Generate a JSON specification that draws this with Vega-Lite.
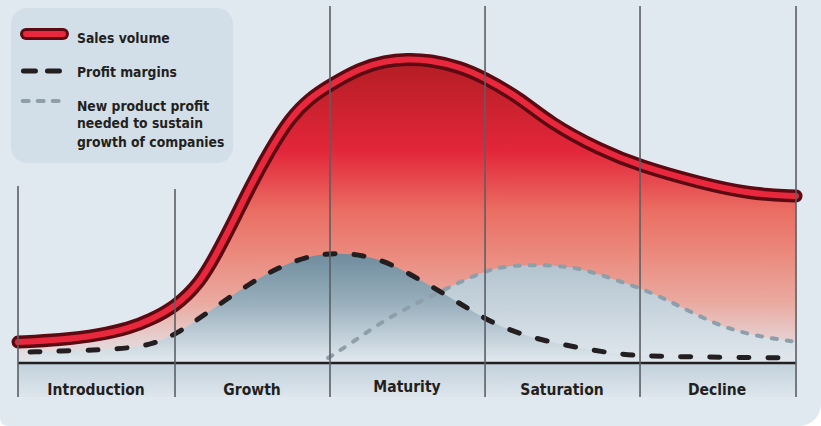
{
  "$schema": "https://vega.github.io/schema/vega-lite/v6.json",
  "width": 821,
  "height": 426,
  "autosize": {"type": "fit", "contains": "padding"},
  "padding": 0,
  "background": "#ffffff",
  "config": {"view": {"stroke": null}},
  "datasets": {
    "panel": [{"t": -2.314, "t2": 103.21, "v": -21, "v2": 121}],
    "legendBox": [{"t": -0.9, "t2": 27.64, "v": 118.33, "v2": 66.67}],
    "band": [{"t": 0, "t2": 100, "v": 0, "v2": -11.33}],
    "baseline": [{"t": 0, "t2": 100, "v": 0}],
    "sales": [
      {"t": 0, "v": 7}, {"t": 5.4, "v": 7.67}, {"t": 10.54, "v": 9.33}, {"t": 14.4, "v": 11.67},
      {"t": 16.97, "v": 14.33}, {"t": 20.18, "v": 18.67}, {"t": 23.39, "v": 26.67}, {"t": 25.58, "v": 36.67},
      {"t": 27.89, "v": 48.33}, {"t": 29.82, "v": 58.67}, {"t": 32.39, "v": 71}, {"t": 34.96, "v": 81.67},
      {"t": 37.53, "v": 88.33}, {"t": 40.1, "v": 92.67}, {"t": 43.96, "v": 98.33}, {"t": 47.17, "v": 100.67},
      {"t": 50, "v": 101.33}, {"t": 52.96, "v": 101}, {"t": 56.81, "v": 98.67}, {"t": 59.77, "v": 95.33},
      {"t": 64.52, "v": 88.33}, {"t": 68.38, "v": 80}, {"t": 74.81, "v": 71}, {"t": 79.95, "v": 65.67},
      {"t": 87.66, "v": 60}, {"t": 94.09, "v": 56.33}, {"t": 100, "v": 55.67}
    ],
    "profit": [
      {"t": 1.54, "v": 3.67}, {"t": 5.4, "v": 4}, {"t": 10.54, "v": 4.33}, {"t": 14.4, "v": 5},
      {"t": 17.35, "v": 6.33}, {"t": 20.18, "v": 9.33}, {"t": 24.29, "v": 16.67}, {"t": 29.82, "v": 26.67},
      {"t": 34.06, "v": 32.67}, {"t": 37.92, "v": 36}, {"t": 41.0, "v": 36.67}, {"t": 44.34, "v": 36},
      {"t": 47.81, "v": 33.33}, {"t": 51.67, "v": 27.67}, {"t": 54.63, "v": 23.33}, {"t": 58.1, "v": 17.67},
      {"t": 61.05, "v": 13.33}, {"t": 64.52, "v": 9.67}, {"t": 68.38, "v": 7}, {"t": 72.24, "v": 5},
      {"t": 76.09, "v": 3.33}, {"t": 79.95, "v": 2.33}, {"t": 87.66, "v": 2}, {"t": 100, "v": 1.67}
    ],
    "newp": [
      {"t": 39.85, "v": 1.67}, {"t": 43.06, "v": 7}, {"t": 46.53, "v": 13.33}, {"t": 50, "v": 18.33},
      {"t": 53.34, "v": 22.67}, {"t": 56.81, "v": 27}, {"t": 60.28, "v": 31}, {"t": 63.62, "v": 32.67},
      {"t": 68.38, "v": 32.67}, {"t": 72.24, "v": 31.67}, {"t": 76.09, "v": 28.33}, {"t": 79.95, "v": 25},
      {"t": 82.9, "v": 21.67}, {"t": 84.7, "v": 19.33}, {"t": 89.85, "v": 12.67}, {"t": 94.09, "v": 9.33},
      {"t": 100, "v": 7}
    ],
    "rules": [
      {"t": 0, "v": 59, "v2": -11.33}, {"t": 20.18, "v": 58, "v2": -11.33}, {"t": 40.1, "v": 119, "v2": -11.33},
      {"t": 60.03, "v": 119, "v2": -11.33}, {"t": 79.95, "v": 119, "v2": -11.33}, {"t": 100, "v": 119, "v2": -11.33}
    ],
    "legSales": [{"t": 1.03, "v": 109.67}, {"t": 5.78, "v": 109.67}],
    "legProfit": [{"t": 0.7, "v": 97.33}, {"t": 6.1, "v": 97.33}],
    "legNew": [{"t": 0.6, "v": 87.33}, {"t": 6.1, "v": 87.33}],
    "legText": [
      {"t": 7.58, "v": 106.67, "label": "Sales volume"},
      {"t": 7.58, "v": 95.17, "label": "Profit margins"},
      {"t": 7.58, "v": 84.1, "label": "New product profit"},
      {"t": 7.58, "v": 78.23, "label": "needed to sustain"},
      {"t": 7.58, "v": 72.1, "label": "growth of companies"}
    ],
    "stages": [
      {"t": 10.03, "v": -10.67, "label": "Introduction"},
      {"t": 30.08, "v": -10.67, "label": "Growth"},
      {"t": 50, "v": -9.67, "label": "Maturity"},
      {"t": 69.92, "v": -10.67, "label": "Saturation"},
      {"t": 89.85, "v": -10.67, "label": "Decline"}
    ]
  },
  "encoding": {
    "x": {"field": "t", "type": "quantitative", "scale": {"domain": [-2.314, 103.21], "nice": false, "zero": false}, "axis": null},
    "y": {"field": "v", "type": "quantitative", "scale": {"domain": [-21, 121], "nice": false, "zero": false}, "axis": null}
  },
  "layer": [
    {"data": {"name": "panel"}, "mark": {"type": "rect", "fill": "#e1e9f0", "cornerRadiusBottomRight": 22, "cornerRadiusBottomLeft": 8},
     "encoding": {"x2": {"field": "t2"}, "y2": {"field": "v2"}}},
    {"data": {"name": "legendBox"}, "mark": {"type": "rect", "fill": "#d3dfe8", "cornerRadius": 16},
     "encoding": {"x2": {"field": "t2"}, "y2": {"field": "v2"}}},
    {"data": {"name": "band"}, "mark": {"type": "rect", "fill": {"gradient": "linear", "x1": 0, "y1": 0, "x2": 0, "y2": 1,
      "stops": [{"offset": 0, "color": "#c1d0db"}, {"offset": 1, "color": "#dee6ed"}]}},
     "encoding": {"x2": {"field": "t2"}, "y2": {"field": "v2"}}},
    {"data": {"name": "sales"}, "mark": {"type": "area", "interpolate": "basis", "fill": {"gradient": "linear", "x1": 0, "y1": 0, "x2": 0, "y2": 1,
      "stops": [
        {"offset": 0, "color": "#b21d24"}, {"offset": 0.3, "color": "#e3263a"}, {"offset": 0.5, "color": "#ea6e63"},
        {"offset": 0.65, "color": "#eb8b7f"}, {"offset": 0.8, "color": "#eaaaa0"}, {"offset": 0.93, "color": "#e5d2d3"},
        {"offset": 1, "color": "#e1e5eb"}]}},
     "encoding": {"y2": {"datum": 0}}},
    {"data": {"name": "newp"}, "mark": {"type": "area", "interpolate": "basis", "fill": {"gradient": "linear", "x1": 0, "y1": 0, "x2": 0, "y2": 1,
      "stops": [{"offset": 0, "color": "#b3c4cf"}, {"offset": 1, "color": "#e1e8ee"}]}},
     "encoding": {"y2": {"datum": 0}}},
    {"data": {"name": "profit"}, "mark": {"type": "area", "interpolate": "basis", "fill": {"gradient": "linear", "x1": 0, "y1": 0, "x2": 0, "y2": 1,
      "stops": [{"offset": 0, "color": "#6f8c9d"}, {"offset": 0.45, "color": "#98afbc"}, {"offset": 1, "color": "#e2e9ef"}]}},
     "encoding": {"y2": {"datum": 0}}},
    {"data": {"name": "baseline"}, "mark": {"type": "rule", "stroke": "#231f20", "strokeWidth": 2.5},
     "encoding": {"x2": {"field": "t2"}}},
    {"data": {"name": "newp"}, "mark": {"type": "line", "interpolate": "basis", "stroke": "#8e9fa9", "strokeWidth": 4, "strokeDash": [5, 10], "strokeCap": "round"}},
    {"data": {"name": "profit"}, "mark": {"type": "line", "interpolate": "basis", "stroke": "#231f20", "strokeWidth": 5, "strokeDash": [10, 19], "strokeCap": "round"}},
    {"data": {"name": "sales"}, "mark": {"type": "line", "interpolate": "basis", "stroke": "#5c0a12", "strokeWidth": 13, "strokeCap": "round", "strokeJoin": "round"}},
    {"data": {"name": "sales"}, "mark": {"type": "line", "interpolate": "basis", "stroke": "#e9283e", "strokeWidth": 6, "strokeCap": "round", "strokeJoin": "round"}},
    {"data": {"name": "rules"}, "mark": {"type": "rule", "stroke": "#5b5f64", "strokeWidth": 1.6},
     "encoding": {"y2": {"field": "v2"}}},
    {"data": {"name": "legSales"}, "mark": {"type": "line", "stroke": "#5c0a12", "strokeWidth": 12, "strokeCap": "round"}},
    {"data": {"name": "legSales"}, "mark": {"type": "line", "stroke": "#e9283e", "strokeWidth": 6, "strokeCap": "round"}},
    {"data": {"name": "legProfit"}, "mark": {"type": "line", "stroke": "#231f20", "strokeWidth": 5, "strokeDash": [12, 12], "strokeCap": "round"}},
    {"data": {"name": "legNew"}, "mark": {"type": "line", "stroke": "#8e9fa9", "strokeWidth": 4, "strokeDash": [6, 9], "strokeCap": "round"}},
    {"data": {"name": "legText"}, "mark": {"type": "text", "align": "left", "baseline": "alphabetic", "font": "DejaVu Sans Condensed, Roboto, sans-serif", "fontWeight": "bold", "fontSize": 13.8, "fill": "#231f20"},
     "encoding": {"text": {"field": "label"}}},
    {"data": {"name": "stages"}, "mark": {"type": "text", "align": "center", "baseline": "alphabetic", "font": "DejaVu Sans Condensed, Roboto, sans-serif", "fontWeight": "bold", "fontSize": 15.5, "fill": "#231f20"},
     "encoding": {"text": {"field": "label"}}}
  ]
}
